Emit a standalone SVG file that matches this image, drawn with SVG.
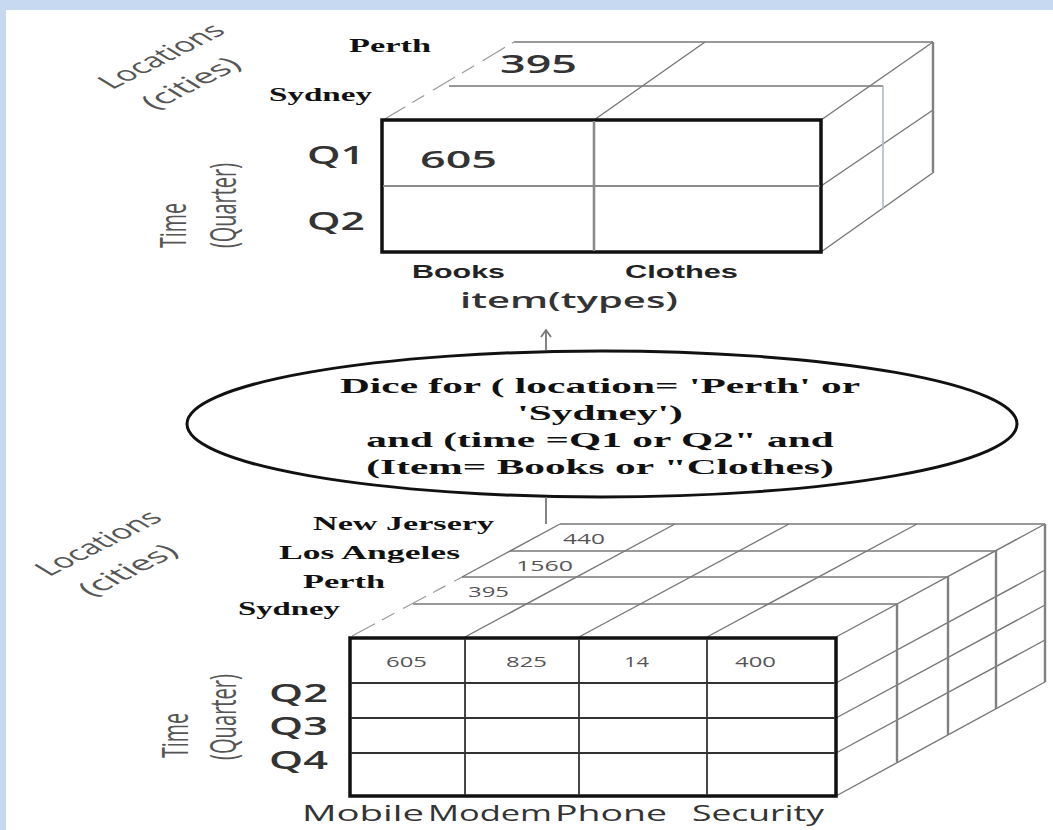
<svg xmlns="http://www.w3.org/2000/svg" width="1053" height="830" viewBox="0 0 1053 830">
  <style>
    .serif { font-family: "Liberation Serif", "Times New Roman", serif; font-weight: bold; fill: #111; }
    .sans { font-family: "Open Sans", "Liberation Sans", sans-serif; font-weight: 600; fill: #333; }
    .light { font-weight: normal; }
    .bold-sans { font-family: "Liberation Sans", Arial, sans-serif; font-weight: bold; fill: #222; }
    .axis { font-family: "Open Sans", "Liberation Sans", sans-serif; fill: #555; font-size: 20px; }
    .num-s { font-family: "Open Sans", "Liberation Sans", sans-serif; fill: #555; }
    .edge { stroke: #777; stroke-width: 1.4; fill: none; }
    .edge-faint { stroke: #999; stroke-width: 1.2; fill: none; stroke-dasharray: 26 8 14 10; }
    .side { stroke: #808080; stroke-width: 2.4; fill: none; }
    .face { fill: #fff; stroke: #111; stroke-width: 3.5; }
    .grid-top { stroke: #8a8a8a; fill: none; }
    .grid-bot { stroke: #333; stroke-width: 1.8; fill: none; }
    .conn { stroke: #777; stroke-width: 1.8; fill: none; }
  </style>

  <!-- page frame -->
  <rect x="0" y="0" width="1053" height="830" fill="#c6d9f1"/>
  <rect x="6" y="10" width="1047" height="820" fill="#ffffff"/>

  <!-- sliced cube: Sydney/Perth x Q1/Q2 x Books/Clothes -->
  <g id="diced-cube">
    <!-- top face -->
    <line class="edge" x1="514" y1="42" x2="933" y2="42"/>
    <line class="edge" x1="449" y1="86" x2="883" y2="86"/>
    <line class="edge" x1="594" y1="120" x2="705" y2="42"/>
    <line class="edge-faint" x1="383" y1="120" x2="514" y2="42"/>
    <!-- right face -->
    <line class="edge" x1="821" y1="120" x2="933" y2="42"/>
    <line class="edge" x1="821" y1="186" x2="933" y2="110"/>
    <line class="edge" x1="821" y1="252" x2="934" y2="172"/>
    <line class="side" x1="933" y1="42" x2="933" y2="172"/>
    <line x1="883" y1="86" x2="883" y2="209" stroke="#a9bccf" stroke-width="1.6"/>
    <!-- front face -->
    <rect class="face" x="382" y="120" width="439" height="132"/>
    <line class="grid-top" x1="594" y1="121" x2="594" y2="251" stroke-width="2.6"/>
    <line class="grid-top" x1="383" y1="186" x2="820" y2="186" stroke-width="2"/>
    <!-- labels -->
    <text class="serif" x="349" y="52" font-size="18" textLength="82" lengthAdjust="spacingAndGlyphs">Perth</text>
    <text class="serif" x="269" y="101" font-size="18" textLength="103" lengthAdjust="spacingAndGlyphs">Sydney</text>
    <text class="sans" x="500" y="73" font-size="25" textLength="77" lengthAdjust="spacingAndGlyphs">395</text>
    <text class="sans" x="420" y="168" font-size="24" textLength="77" lengthAdjust="spacingAndGlyphs">605</text>
    <text class="sans" x="307" y="164" font-size="26" textLength="58" lengthAdjust="spacingAndGlyphs">Q1</text>
    <text class="sans" x="307" y="230" font-size="26" textLength="58" lengthAdjust="spacingAndGlyphs">Q2</text>
    <text class="bold-sans" x="412" y="278" font-size="18" textLength="93" lengthAdjust="spacingAndGlyphs">Books</text>
    <text class="bold-sans" x="625" y="278" font-size="18" textLength="113" lengthAdjust="spacingAndGlyphs">Clothes</text>
    <text class="sans" x="460" y="308" font-size="21" fill="#222" textLength="218" lengthAdjust="spacingAndGlyphs">item(types)</text>
    <g transform="translate(112,90) scale(1.8,1) rotate(-42)">
      <text class="axis" x="0" y="0" textLength="86" lengthAdjust="spacingAndGlyphs">Locations</text>
      <text class="axis" x="4" y="31" textLength="66" lengthAdjust="spacingAndGlyphs">(cities)</text>
    </g>
    <g transform="translate(186,248) scale(1.8,1) rotate(-90)">
      <text class="axis" x="0" y="0" font-size="19" textLength="45" lengthAdjust="spacingAndGlyphs">Time</text>
    </g>
    <g transform="translate(236,248) scale(1.8,1) rotate(-90)">
      <text class="axis" x="0" y="0" font-size="19" textLength="85" lengthAdjust="spacingAndGlyphs">(Quarter)</text>
    </g>
  </g>

  <!-- dice operation -->
  <g id="dice-operation">
    <ellipse cx="602" cy="424" rx="415" ry="73" fill="#fff" stroke="#111" stroke-width="3"/>
    <g transform="translate(600,0) scale(1.97,1)" class="serif" font-size="21" text-anchor="middle">
      <text x="0" y="393">Dice for ( location= 'Perth' or</text>
      <text x="0" y="420">'Sydney')</text>
      <text x="0" y="447">and (time =Q1 or Q2" and</text>
      <text x="0" y="474">(Item= Books or "Clothes)</text>
    </g>
  </g>

  <!-- full cube: 4 cities x 4 quarters x 4 items -->
  <g id="source-cube">
    <!-- top face -->
    <line class="edge" x1="560" y1="524" x2="1045" y2="524"/>
    <line class="edge" x1="510" y1="551" x2="996" y2="551"/>
    <line class="edge" x1="462" y1="577" x2="948" y2="577"/>
    <line class="edge" x1="413" y1="604" x2="897" y2="604"/>
    <line class="edge" x1="465" y1="637" x2="675" y2="524"/>
    <line class="edge" x1="579" y1="637" x2="789" y2="524"/>
    <line class="edge" x1="707" y1="637" x2="917" y2="524"/>
    <line class="edge" x1="462" y1="577" x2="560" y2="524"/>
    <line class="edge-faint" x1="352" y1="636" x2="462" y2="577"/>
    <!-- right face -->
    <line class="edge" x1="836" y1="637" x2="1045" y2="524"/>
    <line class="edge" x1="836" y1="683" x2="1045" y2="570"/>
    <line class="edge" x1="836" y1="718" x2="1045" y2="605"/>
    <line class="edge" x1="836" y1="753" x2="1045" y2="640"/>
    <line class="edge" x1="836" y1="796" x2="1045" y2="682"/>
    <line class="side" x1="897" y1="604" x2="897" y2="762"/>
    <line class="side" x1="948" y1="577" x2="948" y2="735"/>
    <line class="side" x1="996" y1="551" x2="996" y2="709"/>
    <line class="side" x1="1045" y1="524" x2="1045" y2="682"/>
    <!-- front face -->
    <rect class="face" x="350" y="638" width="486" height="158"/>
    <line class="grid-bot" x1="465" y1="639" x2="465" y2="795"/>
    <line class="grid-bot" x1="579" y1="639" x2="579" y2="795"/>
    <line class="grid-bot" x1="707" y1="639" x2="707" y2="795"/>
    <line class="grid-bot" x1="351" y1="683" x2="835" y2="683"/>
    <line class="grid-bot" x1="351" y1="718" x2="835" y2="718"/>
    <line class="grid-bot" x1="351" y1="753" x2="835" y2="753"/>
    <!-- labels -->
    <text class="serif" x="313" y="530" font-size="18" textLength="181" lengthAdjust="spacingAndGlyphs">New Jersery</text>
    <text class="serif" x="279" y="559" font-size="18" textLength="181" lengthAdjust="spacingAndGlyphs">Los Angeles</text>
    <text class="serif" x="303" y="588" font-size="18" textLength="82" lengthAdjust="spacingAndGlyphs">Perth</text>
    <text class="serif" x="238" y="615" font-size="18" textLength="102" lengthAdjust="spacingAndGlyphs">Sydney</text>
    <text class="num-s" x="563" y="544" font-size="14" textLength="42" lengthAdjust="spacingAndGlyphs">440</text>
    <text class="num-s" x="516" y="571" font-size="14" textLength="57" lengthAdjust="spacingAndGlyphs">1560</text>
    <text class="num-s" x="468" y="597" font-size="14" textLength="41" lengthAdjust="spacingAndGlyphs">395</text>
    <text class="num-s" x="386" y="667" font-size="15" textLength="41" lengthAdjust="spacingAndGlyphs">605</text>
    <text class="num-s" x="506" y="667" font-size="15" textLength="41" lengthAdjust="spacingAndGlyphs">825</text>
    <text class="num-s" x="624" y="667" font-size="15" textLength="25" lengthAdjust="spacingAndGlyphs">14</text>
    <text class="num-s" x="735" y="667" font-size="15" textLength="41" lengthAdjust="spacingAndGlyphs">400</text>
    <text class="sans" x="269" y="702" font-size="26" textLength="59" lengthAdjust="spacingAndGlyphs">Q2</text>
    <text class="sans" x="269" y="735" font-size="26" textLength="59" lengthAdjust="spacingAndGlyphs">Q3</text>
    <text class="sans" x="269" y="769" font-size="26" textLength="59" lengthAdjust="spacingAndGlyphs">Q4</text>
    <text class="sans light" x="302" y="821" font-size="21" fill="#444" textLength="122" lengthAdjust="spacingAndGlyphs">Mobile</text>
    <text class="sans light" x="428" y="821" font-size="21" fill="#444" textLength="124" lengthAdjust="spacingAndGlyphs">Modem</text>
    <text class="sans light" x="555" y="821" font-size="21" fill="#444" textLength="112" lengthAdjust="spacingAndGlyphs">Phone</text>
    <text class="sans light" x="692" y="821" font-size="21" fill="#444" textLength="132" lengthAdjust="spacingAndGlyphs">Security</text>
    <g transform="translate(49,577) scale(1.8,1) rotate(-42)">
      <text class="axis" x="0" y="0" textLength="86" lengthAdjust="spacingAndGlyphs">Locations</text>
      <text class="axis" x="4" y="31" textLength="66" lengthAdjust="spacingAndGlyphs">(cities)</text>
    </g>
    <g transform="translate(188,758) scale(1.8,1) rotate(-90)">
      <text class="axis" x="0" y="0" font-size="19" textLength="45" lengthAdjust="spacingAndGlyphs">Time</text>
    </g>
    <g transform="translate(236,760) scale(1.8,1) rotate(-90)">
      <text class="axis" x="0" y="0" font-size="19" textLength="86" lengthAdjust="spacingAndGlyphs">(Quarter)</text>
    </g>
  </g>

  <!-- connectors -->
  <g id="connectors">
    <line class="conn" x1="546" y1="350" x2="546" y2="330"/>
    <polyline class="conn" points="541,337 546,330 551,337" stroke-width="1.5"/>
    <line class="conn" x1="546" y1="497" x2="546" y2="524"/>
  </g>
</svg>
